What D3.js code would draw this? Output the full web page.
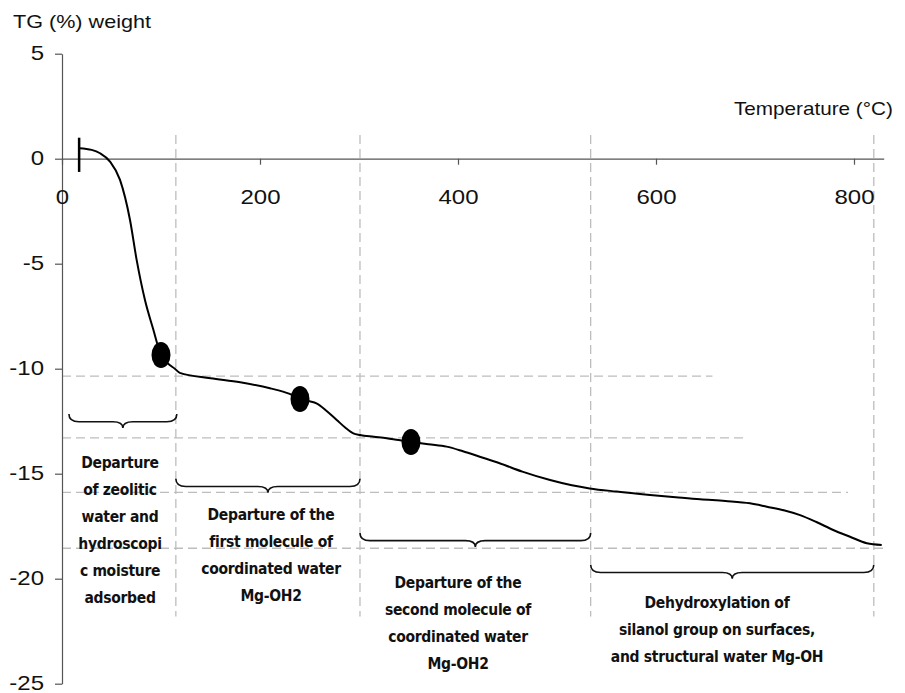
<!DOCTYPE html>
<html>
<head>
<meta charset="utf-8">
<script src="https://cdn.jsdelivr.net/npm/d3@7"></script>
<style>
  html, body { margin: 0; padding: 0; background: #fff; }
  svg { display: block; }
  .stage-label { font-family: "DejaVu Sans Condensed", "DejaVu Sans", sans-serif; font-stretch: condensed; }
</style>
</head>
<body>
<svg id="chart" width="905" height="693"></svg>
<script>
// Thermogravimetric curve: temperature (°C) vs. weight change (%)
const temperature = [17.5, 30, 38.4, 48.5, 58.6, 68.7, 75.4, 83.8, 92, 100, 107, 114, 119,
  150, 180, 210, 230, 241, 250, 257, 267, 277.5, 286, 294.3, 301, 315, 328, 340, 352.5,
  370, 388.5, 405, 422, 442, 465, 493, 515, 533, 560, 594, 620, 644.6, 670, 695, 712,
  730, 745.5, 762, 779, 796, 813, 828];
const weightChange = [0.5, 0.42, 0.26, -0.14, -1.01, -2.92, -4.82, -6.73, -8.1, -9.35, -9.75, -10.0, -10.2,
  -10.45, -10.65, -10.93, -11.2, -11.44, -11.55, -11.65, -12.0, -12.44, -12.8, -13.08, -13.16, -13.24, -13.31, -13.4, -13.48,
  -13.6, -13.71, -13.93, -14.19, -14.5, -14.9, -15.3, -15.55, -15.7, -15.85, -16.01, -16.12, -16.22, -16.3, -16.41, -16.57,
  -16.75, -16.97, -17.3, -17.68, -18.0, -18.31, -18.39];

// Characteristic points on the curve
const markerTemps = [100, 240.4, 352.5];
const markerValues = [-9.35, -11.44, -13.49];

// Start-of-run marker
const startTemp = 17.3;
const startRange = [1.0, -0.63];

// Axis ticks
const xTicks = [0, 200, 400, 600, 800];
const yTicks = [5, 0, -5, -10, -15, -20, -25];

// Stage boundaries (vertical guides) and plateau levels (horizontal guides)
const stageBounds = [115, 301, 534, 820];
const guideRange = [1.13, -21.8];
const levelValues = [-10.35, -13.29, -15.89, -18.55];
const levelEnds = [657, 691, 794, 833];

// Braces grouping each stage
const braceStarts = [7, 115, 301, 534];
const braceEnds = [116, 301, 534, 820];
const braceTops = [-12.16, -15.24, -17.82, -19.34];

const stageLabels = [
  ["Departure", "of zeolitic", "water and", "hydroscopi", "c moisture", "adsorbed"],
  ["Departure of the", "first molecule of", "coordinated water", "Mg-OH2"],
  ["Departure of the", "second molecule of", "coordinated water", "Mg-OH2"],
  ["Dehydroxylation of", "silanol group on surfaces,", "and structural water Mg-OH"]
];

// ---- layout ----
const svg = d3.select("#chart");
const x = d3.scaleLinear().domain([0, 830]).range([62, 883.7]);
const y = d3.scaleLinear().domain([5, -25]).range([53.7, 683.7]);
const labelLayout = [
  { cx: 120, top: 463 },
  { cx: 271, top: 515 },
  { cx: 458, top: 583 },
  { cx: 717, top: 603 }
];
const lineStep = 27;
const braceDepth = 14;

// Guides
const guides = svg.append("g").attr("stroke", "#bdbdbd").attr("stroke-width", 1.3)
  .attr("stroke-dasharray", "9,5").attr("fill", "none");
guides.selectAll("line.v").data(stageBounds).join("line").attr("class", "v")
  .attr("x1", d => x(d)).attr("x2", d => x(d))
  .attr("y1", y(guideRange[0])).attr("y2", y(guideRange[1]));
guides.selectAll("line.h").data(levelValues).join("line").attr("class", "h")
  .attr("x1", x(0)).attr("x2", (d, i) => x(levelEnds[i]))
  .attr("y1", d => y(d)).attr("y2", d => y(d));

// Axes
const plain = d => String(d);
const yAxis = svg.append("g").attr("transform", `translate(${x(0)},0)`)
  .call(d3.axisLeft(y).tickValues(yTicks).tickSize(7).tickSizeOuter(0).tickPadding(8).tickFormat(plain));
const xAxis = svg.append("g").attr("transform", `translate(0,${y(0)})`)
  .call(d3.axisBottom(x).tickValues(xTicks).tickSize(6).tickSizeOuter(0).tickPadding(25).tickFormat(plain));
[yAxis, xAxis].forEach(a => {
  a.select(".domain").attr("stroke", "#555").attr("stroke-width", 1.2);
  a.selectAll(".tick line").attr("stroke", "#555").attr("stroke-width", 1.2);
  a.selectAll(".tick text")
    .attr("font-family", "'Liberation Sans', Arial, sans-serif")
    .attr("font-size", 20).attr("fill", "#111")
    .attr("transform", "scale(1.2,1)");
});
yAxis.selectAll(".tick text").attr("dy", "0.27em");

// Axis titles
svg.append("text").attr("transform", "translate(13,28) scale(1.2,1)")
  .attr("font-family", "'Liberation Sans', Arial, sans-serif").attr("font-size", 18).attr("fill", "#111")
  .text("TG (%) weight");
svg.append("text").attr("transform", "translate(734,115) scale(1.15,1)")
  .attr("font-family", "'Liberation Sans', Arial, sans-serif").attr("font-size", 18).attr("fill", "#111")
  .text("Temperature (°C)");

// Start marker
svg.append("line")
  .attr("x1", x(startTemp)).attr("x2", x(startTemp))
  .attr("y1", y(startRange[0])).attr("y2", y(startRange[1]))
  .attr("stroke", "#000").attr("stroke-width", 2.5);

// TG curve
const line = d3.line().x((d, i) => x(temperature[i])).y(d => y(d)).curve(d3.curveMonotoneX);
svg.append("path").datum(weightChange).attr("d", line)
  .attr("fill", "none").attr("stroke", "#000").attr("stroke-width", 2).attr("stroke-linejoin", "round");

// Markers
svg.selectAll("ellipse.marker").data(markerTemps).join("ellipse").attr("class", "marker")
  .attr("cx", d => x(d)).attr("cy", (d, i) => y(markerValues[i]))
  .attr("rx", 9.5).attr("ry", 13).attr("fill", "#000");

// Braces
function bracePath(x0, x1, yt) {
  const yb = yt + braceDepth, ym = yt + braceDepth * 0.55, xc = (x0 + x1) / 2, r = 10;
  return `M${x0},${yt} Q${x0},${ym} ${x0 + r},${ym} L${xc - r},${ym} Q${xc},${ym} ${xc},${yb}` +
         ` Q${xc},${ym} ${xc + r},${ym} L${x1 - r},${ym} Q${x1},${ym} ${x1},${yt}`;
}
svg.selectAll("path.brace").data(braceStarts).join("path").attr("class", "brace")
  .attr("d", (d, i) => bracePath(x(d), x(braceEnds[i]), y(braceTops[i])))
  .attr("fill", "none").attr("stroke", "#111").attr("stroke-width", 1.6);

// Stage descriptions
stageLabels.forEach((lines, i) => {
  const t = svg.append("text").attr("class", "stage-label")
    .attr("text-anchor", "middle").attr("font-size", 15.5).attr("font-weight", "bold").attr("fill", "#111")
    .attr("letter-spacing", -0.3);
  lines.forEach((s, k) => {
    t.append("tspan").attr("x", labelLayout[i].cx)
      .attr("y", labelLayout[i].top + k * lineStep).attr("dy", "0.35em").text(s);
  });
});
</script>
</body>
</html>
